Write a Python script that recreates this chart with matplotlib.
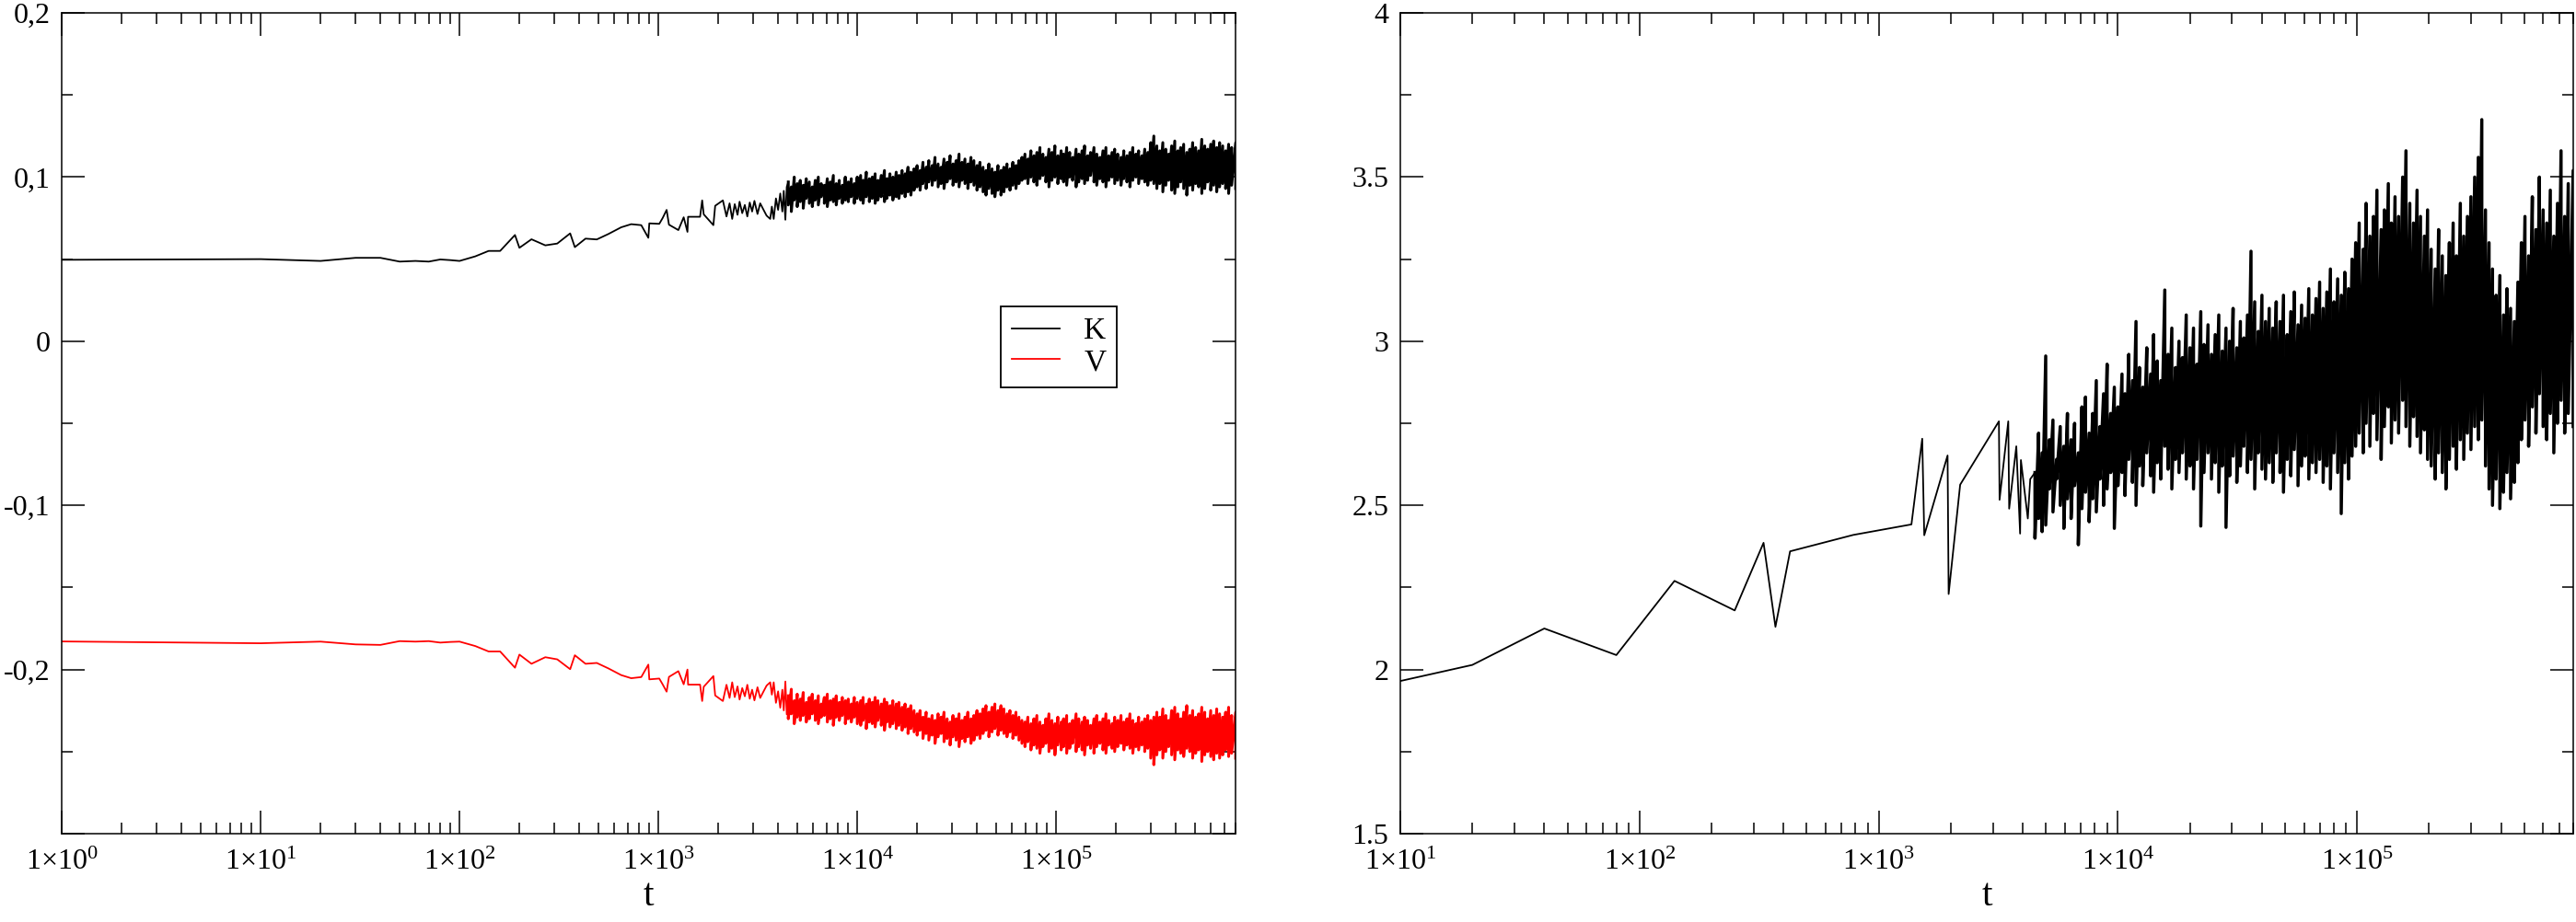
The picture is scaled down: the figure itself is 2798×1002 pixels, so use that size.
import numpy as np
import matplotlib.pyplot as plt
from matplotlib.ticker import LogLocator, MultipleLocator, FuncFormatter, NullFormatter

plt.rcParams['font.family'] = ['Liberation Serif', 'DejaVu Serif']
plt.rcParams['mathtext.fontset'] = 'custom'
plt.rcParams['mathtext.rm'] = 'Liberation Serif'
plt.rcParams['mathtext.it'] = 'Liberation Serif:italic'

# ---- left panel: K and V, sparse early samples ----
t_early = [1, 10, 20, 30, 40, 50, 60, 70, 80, 90,
           100, 120, 140, 160, 190, 200, 230, 270, 310, 360,
           380, 430, 490, 560, 650, 730, 820, 890, 900, 1010,
           1050, 1100, 1130, 1260, 1340, 1400, 1410, 1620, 1660, 1690,
           1890, 1930, 2110, 2200, 2280, 2350, 2420, 2500, 2560, 2640,
           2720, 2800, 2880, 2960, 3040, 3150, 3250, 3380, 3500, 3650,
           3720, 3800, 3900, 4000, 4100, 4200, 4270, 4350, 4420]
K_early = [0.0496, 0.0500, 0.0489, 0.0508, 0.0508, 0.0485, 0.0489, 0.0485, 0.0498, 0.0494,
           0.0489, 0.0517, 0.0550, 0.0550, 0.0647, 0.0569, 0.0621, 0.0584, 0.0595, 0.0657,
           0.0573, 0.0625, 0.0620, 0.0653, 0.0694, 0.0713, 0.0707, 0.0630, 0.0718, 0.0715,
           0.0750, 0.0800, 0.0710, 0.0677, 0.0755, 0.0666, 0.0758, 0.0758, 0.0858, 0.0773,
           0.0707, 0.0825, 0.0858, 0.0760, 0.0840, 0.0745, 0.0835, 0.0770, 0.0850, 0.0780,
           0.0830, 0.0760, 0.0845, 0.0790, 0.0855, 0.0775, 0.0840, 0.0800, 0.0765, 0.0745,
           0.0820, 0.0745, 0.0870, 0.0800, 0.0900, 0.0790, 0.0916, 0.0740, 0.0940]
V_early = [-0.1829, -0.1840, -0.1830, -0.1847, -0.1850, -0.1827, -0.1830, -0.1827, -0.1836, -0.1832,
           -0.1830, -0.1857, -0.1890, -0.1890, -0.1989, -0.1909, -0.1965, -0.1925, -0.1938, -0.1998,
           -0.1913, -0.1965, -0.1960, -0.1993, -0.2034, -0.2053, -0.2046, -0.1970, -0.2060, -0.2055,
           -0.2090, -0.2135, -0.2045, -0.2010, -0.2090, -0.2000, -0.2092, -0.2092, -0.2192, -0.2105,
           -0.2040, -0.2158, -0.2192, -0.2093, -0.2173, -0.2078, -0.2168, -0.2103, -0.2183, -0.2113,
           -0.2163, -0.2093, -0.2178, -0.2123, -0.2188, -0.2108, -0.2173, -0.2133, -0.2098, -0.2078,
           -0.2153, -0.2078, -0.2203, -0.2133, -0.2233, -0.2123, -0.2249, -0.2073, -0.2273]

# ---- dense part: sample times with the upper / lower swing at each ----
t_band = [4500, 4660, 4820, 4990, 5170, 5350, 5540, 5740, 5940, 6150,
          6370, 6590, 6830, 7070, 7320, 7580, 7840, 8120, 8410, 8710,
          9010, 9330, 9660, 10000, 10400, 10700, 11100, 11500, 11900, 12300,
          12700, 13200, 13700, 14100, 14600, 15100, 15700, 16200, 16800, 17400,
          18000, 18600, 19300, 20000, 20700, 21400, 22200, 22900, 23800, 24600,
          25500, 26400, 27300, 28300, 29300, 30300, 31400, 32500, 33600, 34800,
          36000, 37300, 38600, 40000, 41400, 42900, 44400, 45900, 47600, 49200,
          51000, 52800, 54600, 56600, 58600, 60600, 62800, 65000, 67300, 69700,
          72100, 74700, 77300, 80000, 82900, 85800, 88800, 92000, 95200, 98600,
          102000, 106000, 109000, 113000, 117000, 121000, 126000, 130000, 135000, 139000,
          144000, 149000, 155000, 160000, 166000, 172000, 178000, 184000, 191000, 197000,
          204000, 212000, 219000, 227000, 235000, 243000, 252000, 260000, 270000, 279000,
          289000, 299000, 310000, 321000, 332000, 344000, 356000, 368000, 381000, 395000,
          409000, 423000, 438000, 454000, 470000, 486000, 503000, 521000, 540000, 559000,
          578000, 599000, 620000, 642000, 664000, 688000, 712000, 737000, 763000, 800000]

K_hi = [0.097, 0.094, 0.100, 0.096, 0.098, 0.095, 0.099, 0.097, 0.094, 0.098,
        0.100, 0.096, 0.095, 0.099, 0.097, 0.101, 0.096, 0.098, 0.095, 0.100,
        0.097, 0.099, 0.096, 0.100, 0.101, 0.098, 0.103, 0.099, 0.100, 0.102,
        0.098, 0.101, 0.104, 0.099, 0.102, 0.100, 0.103, 0.101, 0.104, 0.102,
        0.106, 0.103, 0.105, 0.107, 0.104, 0.109, 0.106, 0.110, 0.107, 0.112,
        0.108, 0.106, 0.111, 0.109, 0.113, 0.108, 0.110, 0.114, 0.109, 0.111,
        0.108, 0.112, 0.110, 0.107, 0.109, 0.106, 0.104, 0.108, 0.105, 0.103,
        0.107, 0.104, 0.106, 0.108, 0.105, 0.109, 0.107, 0.110, 0.112, 0.114,
        0.111, 0.116, 0.113, 0.115, 0.118, 0.114, 0.112, 0.117, 0.115, 0.119,
        0.113, 0.116, 0.114, 0.118, 0.115, 0.112, 0.117, 0.114, 0.116, 0.119,
        0.113, 0.115, 0.118, 0.114, 0.112, 0.116, 0.118, 0.113, 0.115, 0.117,
        0.114, 0.112, 0.116, 0.113, 0.115, 0.118, 0.114, 0.116, 0.113, 0.117,
        0.115, 0.121, 0.125, 0.119, 0.116, 0.121, 0.117, 0.114, 0.119, 0.122,
        0.116, 0.118, 0.120, 0.115, 0.117, 0.121, 0.118, 0.116, 0.123, 0.119,
        0.117, 0.120, 0.122, 0.118, 0.121, 0.119, 0.116, 0.120, 0.118, 0.121]
K_lo = [0.083, 0.079, 0.086, 0.082, 0.085, 0.081, 0.087, 0.084, 0.082, 0.086,
        0.083, 0.088, 0.084, 0.082, 0.086, 0.085, 0.083, 0.087, 0.084, 0.086,
        0.085, 0.088, 0.084, 0.087, 0.086, 0.084, 0.088, 0.085, 0.087, 0.084,
        0.086, 0.088, 0.085, 0.087, 0.089, 0.086, 0.088, 0.087, 0.090, 0.088,
        0.091, 0.089, 0.092, 0.094, 0.092, 0.096, 0.093, 0.097, 0.095, 0.098,
        0.094, 0.096, 0.093, 0.097, 0.099, 0.095, 0.097, 0.094, 0.098, 0.096,
        0.093, 0.097, 0.095, 0.092, 0.094, 0.091, 0.089, 0.093, 0.090, 0.088,
        0.092, 0.089, 0.091, 0.094, 0.092, 0.095, 0.093, 0.096, 0.098, 0.099,
        0.096, 0.100, 0.097, 0.095, 0.099, 0.101, 0.097, 0.094, 0.098, 0.100,
        0.096, 0.099, 0.097, 0.095, 0.100, 0.098, 0.094, 0.097, 0.099, 0.096,
        0.098, 0.101, 0.097, 0.095, 0.099, 0.097, 0.094, 0.098, 0.100, 0.096,
        0.098, 0.095, 0.099, 0.097, 0.094, 0.098, 0.100, 0.096, 0.099, 0.097,
        0.095, 0.098, 0.096, 0.093, 0.096, 0.091, 0.095, 0.098, 0.092, 0.090,
        0.094, 0.097, 0.093, 0.089, 0.095, 0.092, 0.096, 0.094, 0.090, 0.093,
        0.097, 0.092, 0.095, 0.091, 0.094, 0.096, 0.093, 0.090, 0.095, 0.093]
V_hi = [-0.216, -0.212, -0.219, -0.215, -0.218, -0.214, -0.220, -0.217, -0.215, -0.219,
        -0.216, -0.221, -0.217, -0.215, -0.219, -0.218, -0.216, -0.220, -0.217, -0.219,
        -0.218, -0.221, -0.217, -0.220, -0.219, -0.217, -0.221, -0.218, -0.220, -0.217,
        -0.219, -0.221, -0.218, -0.220, -0.222, -0.219, -0.221, -0.220, -0.223, -0.221,
        -0.224, -0.222, -0.225, -0.227, -0.225, -0.229, -0.226, -0.230, -0.228, -0.231,
        -0.227, -0.229, -0.226, -0.230, -0.232, -0.228, -0.230, -0.227, -0.231, -0.229,
        -0.226, -0.230, -0.228, -0.225, -0.227, -0.224, -0.222, -0.226, -0.223, -0.221,
        -0.225, -0.222, -0.224, -0.227, -0.225, -0.228, -0.226, -0.229, -0.231, -0.232,
        -0.229, -0.233, -0.230, -0.228, -0.232, -0.234, -0.230, -0.227, -0.231, -0.233,
        -0.229, -0.232, -0.230, -0.228, -0.233, -0.231, -0.227, -0.230, -0.232, -0.229,
        -0.231, -0.234, -0.230, -0.228, -0.232, -0.230, -0.227, -0.231, -0.233, -0.229,
        -0.231, -0.228, -0.232, -0.230, -0.227, -0.231, -0.233, -0.229, -0.232, -0.230,
        -0.228, -0.231, -0.229, -0.226, -0.229, -0.224, -0.228, -0.231, -0.225, -0.223,
        -0.227, -0.230, -0.226, -0.222, -0.228, -0.225, -0.229, -0.227, -0.223, -0.226,
        -0.230, -0.225, -0.228, -0.224, -0.227, -0.229, -0.226, -0.223, -0.228, -0.226]
V_lo = [-0.230, -0.227, -0.233, -0.229, -0.231, -0.228, -0.232, -0.230, -0.227, -0.231,
        -0.233, -0.229, -0.228, -0.232, -0.230, -0.234, -0.229, -0.231, -0.228, -0.233,
        -0.230, -0.232, -0.229, -0.233, -0.234, -0.231, -0.236, -0.232, -0.233, -0.235,
        -0.231, -0.234, -0.237, -0.232, -0.235, -0.233, -0.236, -0.234, -0.237, -0.235,
        -0.239, -0.236, -0.238, -0.240, -0.237, -0.242, -0.239, -0.243, -0.240, -0.245,
        -0.241, -0.239, -0.244, -0.242, -0.246, -0.241, -0.243, -0.247, -0.242, -0.244,
        -0.241, -0.245, -0.243, -0.240, -0.242, -0.239, -0.237, -0.241, -0.238, -0.236,
        -0.240, -0.237, -0.239, -0.241, -0.238, -0.242, -0.240, -0.243, -0.245, -0.247,
        -0.244, -0.249, -0.246, -0.248, -0.251, -0.247, -0.245, -0.250, -0.248, -0.252,
        -0.246, -0.249, -0.247, -0.251, -0.248, -0.245, -0.250, -0.247, -0.249, -0.252,
        -0.246, -0.248, -0.251, -0.247, -0.245, -0.249, -0.251, -0.246, -0.248, -0.250,
        -0.247, -0.245, -0.249, -0.246, -0.248, -0.251, -0.247, -0.249, -0.246, -0.250,
        -0.248, -0.254, -0.258, -0.252, -0.249, -0.254, -0.250, -0.247, -0.252, -0.255,
        -0.249, -0.251, -0.253, -0.248, -0.250, -0.254, -0.251, -0.249, -0.256, -0.252,
        -0.250, -0.253, -0.255, -0.251, -0.254, -0.252, -0.249, -0.253, -0.251, -0.254]

# ---- right panel ----
t_right = [10, 20, 40, 80, 140, 250, 330, 370, 426, 783,
           1370, 1520, 1550, 1940, 1960, 2190, 3180, 3200, 3480, 3510,
           3760, 3900, 3930, 4200, 4300]
E_right = [1.965, 2.014, 2.125, 2.044, 2.27, 2.18, 2.386, 2.13, 2.36, 2.41,
           2.442, 2.703, 2.409, 2.652, 2.23, 2.563, 2.756, 2.517, 2.756, 2.49,
           2.68, 2.414, 2.638, 2.46, 2.58]
E_hi = [2.60, 2.72, 2.66, 2.955, 2.70, 2.76, 2.64, 2.74, 2.68, 2.78,
        2.70, 2.75, 2.66, 2.80, 2.83, 2.72, 2.78, 2.88, 2.74, 2.84,
        2.93, 2.78, 2.86, 2.80, 2.90, 2.84, 2.96, 2.88, 3.06, 2.92,
        2.86, 2.98, 2.90, 3.02, 2.94, 2.88, 3.156, 2.96, 3.04, 2.92,
        3.00, 2.95, 3.08, 2.98, 3.04, 2.93, 3.09, 2.99, 3.05, 2.96,
        3.02, 3.08, 2.97, 3.04, 3.00, 3.10, 2.98, 3.06, 3.01, 3.08,
        3.274, 3.12, 3.03, 3.14, 3.06, 3.10, 3.04, 3.12, 3.06, 3.14,
        3.02, 3.09, 3.15, 3.05, 3.11, 3.07, 3.16, 3.08, 3.13, 3.18,
        3.10, 3.15, 3.22, 3.12, 3.19, 3.14, 3.21, 3.16, 3.25, 3.30,
        3.36, 3.28, 3.42, 3.32, 3.38, 3.46, 3.34, 3.40, 3.48, 3.36,
        3.44, 3.38, 3.50, 3.58, 3.42, 3.36, 3.46, 3.38, 3.32, 3.40,
        3.28, 3.22, 3.34, 3.26, 3.20, 3.30, 3.36, 3.26, 3.42, 3.32,
        3.38, 3.44, 3.50, 3.56, 3.675, 3.40, 3.30, 3.22, 3.14, 3.20,
        3.08, 3.16, 3.10, 3.06, 3.18, 3.30, 3.38, 3.26, 3.44, 3.34,
        3.50, 3.40, 3.36, 3.46, 3.32, 3.42, 3.58, 3.38, 3.48, 3.52]
E_lo = [2.40, 2.46, 2.42, 2.44, 2.55, 2.48, 2.58, 2.50, 2.43, 2.52,
        2.46, 2.56, 2.38, 2.49, 2.54, 2.45, 2.52, 2.48, 2.58, 2.50,
        2.55, 2.60, 2.43, 2.56, 2.60, 2.53, 2.64, 2.57, 2.50, 2.62,
        2.56, 2.66, 2.59, 2.54, 2.63, 2.58, 2.68, 2.61, 2.55, 2.64,
        2.60, 2.66, 2.58, 2.62, 2.55, 2.64, 2.437, 2.60, 2.66, 2.58,
        2.63, 2.54, 2.62, 2.433, 2.59, 2.65, 2.57, 2.62, 2.68, 2.60,
        2.64, 2.55, 2.66, 2.61, 2.58, 2.63, 2.57, 2.66, 2.60, 2.54,
        2.64, 2.59, 2.67, 2.56, 2.62, 2.65, 2.58, 2.63, 2.60, 2.64,
        2.57, 2.62, 2.55, 2.66, 2.60, 2.475, 2.63, 2.58, 2.65, 2.68,
        2.72, 2.66, 2.75, 2.68, 2.78, 2.70, 2.64, 2.74, 2.80, 2.69,
        2.76, 2.72, 2.82, 2.74, 2.68, 2.77, 2.71, 2.66, 2.73, 2.64,
        2.62, 2.58, 2.66, 2.60, 2.55, 2.64, 2.68, 2.61, 2.70, 2.64,
        2.72, 2.67, 2.74, 2.70, 2.76, 2.62, 2.55, 2.50, 2.58, 2.49,
        2.54, 2.60, 2.52, 2.57, 2.63, 2.70, 2.76, 2.68, 2.80, 2.72,
        2.84, 2.74, 2.70, 2.78, 2.66, 2.75, 2.82, 2.72, 2.78, 2.74]


def zigzag(hi, lo):
    # each sample time swings from its upper to its lower value
    return np.column_stack([hi, lo]).ravel()


tb = np.repeat(t_band, 2)

fig = plt.figure(figsize=(27.98, 10.02), dpi=100)
ax1 = fig.add_axes([0.0240, 0.0958, 0.4557, 0.8902])
ax2 = fig.add_axes([0.5436, 0.0958, 0.4553, 0.8902])

# sparse part drawn thin, the dense swings heavier so the band closes up
ax1.plot(t_early + [t_band[0]], K_early + [K_hi[0]], color='black', lw=1.3, label='K')
ax1.plot(tb, zigzag(K_hi, K_lo), color='black', lw=2.2)
ax1.plot(t_early + [t_band[0]], V_early + [V_hi[0]], color='red', lw=1.3, label='V')
ax1.plot(tb, zigzag(V_hi, V_lo), color='red', lw=2.2)
ax2.plot(t_right + [t_band[0]], E_right + [E_hi[0]], color='black', lw=1.3)
ax2.plot(tb, zigzag(E_hi, E_lo), color='black', lw=2.5)


def sci(v, pos):
    return r'$\mathrm{1{\times}10^{%d}}$' % int(round(np.log10(v)))


for ax in (ax1, ax2):
    ax.set_xscale('log')
    ax.xaxis.set_major_locator(LogLocator(base=10, numticks=20))
    ax.xaxis.set_minor_locator(LogLocator(base=10, subs=np.arange(2, 10), numticks=100))
    ax.xaxis.set_major_formatter(FuncFormatter(sci))
    ax.xaxis.set_minor_formatter(NullFormatter())
    ax.tick_params(which='both', direction='in', top=True, right=True, width=1.1,
                   labelsize=23)
    ax.tick_params(which='major', length=18)
    ax.tick_params(which='minor', length=8.5)
    ax.tick_params(axis='x', pad=12)
    ax.tick_params(axis='y', pad=9)
    for s in ax.spines.values():
        s.set_linewidth(1.1)
    ax.set_xlabel('t', fontsize=30, labelpad=2)

ax1.set_xlim(1, 8e5)
ax1.set_ylim(-0.3, 0.2)
ax1.set_yticks([-0.3, -0.2, -0.1, 0, 0.1, 0.2], ['', '-0,2', '-0,1', '0', '0,1', '0,2'])
ax1.yaxis.set_minor_locator(MultipleLocator(0.05))

ax2.set_xlim(10, 8e5)
ax2.set_ylim(1.5, 4)
ax2.set_yticks([1.5, 2, 2.5, 3, 3.5, 4], ['1.5', '2', '2.5', '3', '3.5', '4'])
ax2.yaxis.set_minor_locator(MultipleLocator(0.25))

leg = ax1.legend(loc='upper left', bbox_to_anchor=(0.80, 0.6424), borderaxespad=0,
                 fontsize=24, fancybox=False, framealpha=1, edgecolor='black',
                 handlelength=1.55, handletextpad=0.8, labelspacing=0.1, borderpad=0.35)
leg.get_frame().set_linewidth(1.3)

fig.savefig('out.png', dpi=100)
